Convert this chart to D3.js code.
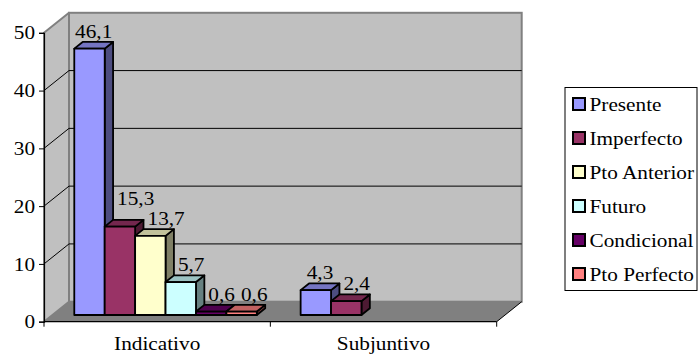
<!DOCTYPE html>
<html>
<head>
<meta charset="utf-8">
<script src="https://cdn.jsdelivr.net/npm/d3@7"></script>
<style>
  html, body { margin: 0; padding: 0; background: #fff; }
  svg { display: block; }
</style>
</head>
<body>
<svg id="chart" width="698" height="356"></svg>
<script>
// Verb tense frequencies (%) by mood
const categories = ["Indicativo", "Subjuntivo"];
const seriesNames = ["Presente", "Imperfecto", "Pto Anterior", "Futuro", "Condicional", "Pto Perfecto"];
const presente    = [46.1, 4.3];
const imperfecto  = [15.3, 2.4];
const ptoAnterior = [13.7, null];
const futuro      = [5.7, null];
const condicional = [0.6, null];
const ptoPerfecto = [0.6, null];
const yTicks = [0, 10, 20, 30, 40, 50];
const seriesColors = ["#9999FF", "#993366", "#FFFFCC", "#CCFFFF", "#660066", "#FF8080"];

const seriesValues = [presente, imperfecto, ptoAnterior, futuro, condicional, ptoPerfecto];

const svg = d3.select("#chart");
const FS = 19;

// pick the first serif face the system actually has
function textWidth(family, s) {
  const t = svg.append("text").attr("font-size", FS).attr("font-family", family).text(s);
  const w = t.node().getComputedTextLength();
  t.remove();
  return w;
}
const probe = "Condicional Pto Anterior 0123456789";
const candidates = ["Liberation Serif", "Times New Roman", "Tinos", "Nimbus Roman", "DejaVu Serif", "Noto Serif", "FreeSerif"];
let face = "serif";
for (const f of candidates) {
  const a = textWidth(`"${f}", monospace`, probe), b = textWidth("monospace", probe);
  const c = textWidth(`"${f}", sans-serif`, probe), d = textWidth("sans-serif", probe);
  if (Math.abs(a - b) > 0.5 && Math.abs(c - d) > 0.5) { face = f; break; }
}
const FONT = face === "serif" ? "serif" : `"${face}", serif`;
// horizontal stretch so the legend word runs about 104px wide
const SX = 104 / textWidth(FONT, "Condicional");
svg.attr("font-family", FONT);

const DX = 25, DY = 20;           // depth projection of the plot box
const T0 = 0.335, T1 = 0.67;      // depth span of the columns

const x0 = 44, x1 = 496.7;
const y = d3.scaleLinear().domain([0, 50]).range([321.7, 32.8]);
const xCat = d3.scaleBand().domain(categories).range([x0, x1]).padding(0);
const xSer = d3.scaleBand().domain(seriesNames).range([0, xCat.bandwidth()])
  .paddingInner(0).paddingOuter(0.72);

const P = (x, yy, t) => [x + DX * t, yy - DY * t];
const fmt = v => d3.format(".1f")(v).replace(".", ",");

function txt(g, x, yy, s, anchor) {
  return g.append("text")
    .attr("transform", `translate(${x},${yy}) scale(${SX},1)`)
    .attr("text-anchor", anchor || "start")
    .attr("font-family", FONT)
    .attr("font-size", FS)
    .attr("fill", "#000")
    .text(s);
}

// ---- walls and floor ----
const yTop = y(50), yBase = y(0);
const walls = svg.append("g");
// back wall
walls.append("rect")
  .attr("x", x0 + DX).attr("y", yTop - DY)
  .attr("width", x1 - x0).attr("height", yBase - yTop)
  .attr("fill", "#C0C0C0").attr("stroke", "#808080").attr("stroke-width", 2);
// left wall
walls.append("polygon")
  .attr("points", [[x0, yTop], P(x0, yTop, 1), P(x0, yBase, 1), [x0, yBase]].join(" "))
  .attr("fill", "#C0C0C0").attr("stroke", "#808080").attr("stroke-width", 2)
  .attr("stroke-linejoin", "round");
// floor
walls.append("polygon")
  .attr("points", [[x0, yBase], [x1, yBase], P(x1, yBase, 1), P(x0, yBase, 1)].join(" "))
  .attr("fill", "#808080");
walls.append("line")
  .attr("x1", x1).attr("y1", yBase).attr("x2", x1 + DX).attr("y2", yBase - DY)
  .attr("stroke", "#000").attr("stroke-width", 1);

// gridlines on left and back walls
const grid = svg.append("g").attr("stroke", "#000").attr("stroke-width", 1);
yTicks.filter(v => v > 0 && v < 50).forEach(v => {
  grid.append("line").attr("x1", x0).attr("y1", y(v))
    .attr("x2", x0 + DX).attr("y2", y(v) - DY);
  grid.append("line").attr("x1", x0 + DX).attr("y1", y(v) - DY)
    .attr("x2", x1 + DX).attr("y2", y(v) - DY);
});

// ---- axes ----
const yAxis = svg.append("g").attr("transform", `translate(${x0},0)`)
  .call(d3.axisLeft(y).tickValues(yTicks).tickSize(5).tickPadding(3).tickFormat(d3.format("d")))
  .attr("font-family", FONT).attr("font-size", FS);
yAxis.select(".domain").attr("stroke", "#000").attr("stroke-width", 1.2);
yAxis.selectAll(".tick line").attr("stroke", "#000");
yAxis.selectAll("text").attr("fill", "#000").attr("transform", `scale(${SX},1)`);

const xAxis = svg.append("g").attr("transform", `translate(0,${yBase})`)
  .call(d3.axisBottom(xCat).tickSize(0).tickPadding(15))
  .attr("font-family", FONT).attr("font-size", FS);
xAxis.select(".domain").remove();
xAxis.selectAll("text").attr("fill", "#000").attr("transform", `scale(${SX},1)`);
svg.append("line").attr("x1", x0).attr("y1", yBase).attr("x2", x1).attr("y2", yBase)
  .attr("stroke", "#000").attr("stroke-width", 1.2);
const bounds = categories.map(c => xCat(c)).concat([x1]);
svg.append("g").selectAll("line").data(bounds).join("line")
  .attr("x1", d => d).attr("x2", d => d)
  .attr("y1", yBase).attr("y2", yBase + 5)
  .attr("stroke", "#000");

// ---- 3D columns ----
const bars = svg.append("g")
  .attr("stroke", "#000").attr("stroke-width", 1.8).attr("stroke-linejoin", "round");
const shade = (c, f) => {
  const r = d3.rgb(c);
  return d3.rgb(r.r * f, r.g * f, r.b * f).formatHex();
};
const labelItems = [];
const CAP = 0.68 * FS;

categories.forEach((cat, ci) => {
  let prev = null;
  seriesNames.forEach((name, si) => {
    const v = seriesValues[si][ci];
    if (v == null) return;
    const bx = xCat(cat) + xSer(name), w = xSer.bandwidth();
    const yv = y(v), y0 = y(0);
    const col = seriesColors[si];
    const fTL = P(bx, yv, T0), fTR = P(bx + w, yv, T0), fBR = P(bx + w, y0, T0);
    const bTL = P(bx, yv, T1), bTR = P(bx + w, yv, T1), bBR = P(bx + w, y0, T1);
    bars.append("polygon").attr("points", [fTR, bTR, bBR, fBR].join(" "))
      .attr("fill", shade(col, 0.5));
    bars.append("polygon").attr("points", [fTL, fTR, bTR, bTL].join(" "))
      .attr("fill", shade(col, 0.76));
    bars.append("rect")
      .attr("x", fTL[0]).attr("y", fTL[1])
      .attr("width", w).attr("height", y0 - yv)
      .attr("fill", col);

    // value label: centred on the column top, nudged clear of its neighbours
    const s = fmt(v);
    const lw = textWidth(FONT, s) * SX;
    const cx = (fTL[0] + bTR[0]) / 2;
    const base = bTL[1] - 4;
    let left = cx - lw / 2;
    if (prev) {
      if (base > prev.barTop) left = Math.max(left, prev.barRight + 4);
      const pl = prev.label;
      if (Math.abs(pl.base - base) < 5 && left < pl.right + 6) left = pl.right + 6;
    }
    const item = { ci, s, left, right: left + lw, base, top: base - CAP };
    labelItems.push(item);
    prev = { barRight: bTR[0], barTop: bTR[1], label: item };
  });
});

// lift labels that would collide with the next label in the same group
for (let i = labelItems.length - 2; i >= 0; i--) {
  const a = labelItems[i], b = labelItems[i + 1];
  if (a.ci !== b.ci) continue;
  const xo = a.right > b.left && b.right > a.left;
  const yo = a.base > b.top && b.base > a.top;
  if (xo && yo) {
    a.base = b.top - 7;
    a.top = a.base - CAP;
  }
}
const labels = svg.append("g");
labelItems.forEach(d => txt(labels, d.left, d.base, d.s, "start"));

// ---- legend ----
const lg = svg.append("g");
lg.append("rect").attr("x", 565).attr("y", 87.5).attr("width", 132).attr("height", 203)
  .attr("fill", "#fff").attr("stroke", "#000").attr("stroke-width", 1);
const rowY = d3.scalePoint().domain(seriesNames).range([104, 274]);
seriesNames.forEach((name, i) => {
  const cy = rowY(name);
  lg.append("rect").attr("x", 573).attr("y", cy - 6).attr("width", 12).attr("height", 12)
    .attr("fill", seriesColors[i]).attr("stroke", "#000").attr("stroke-width", 2);
  txt(lg, 589.5, cy + 6.5, name, "start");
});
</script>
</body>
</html>
